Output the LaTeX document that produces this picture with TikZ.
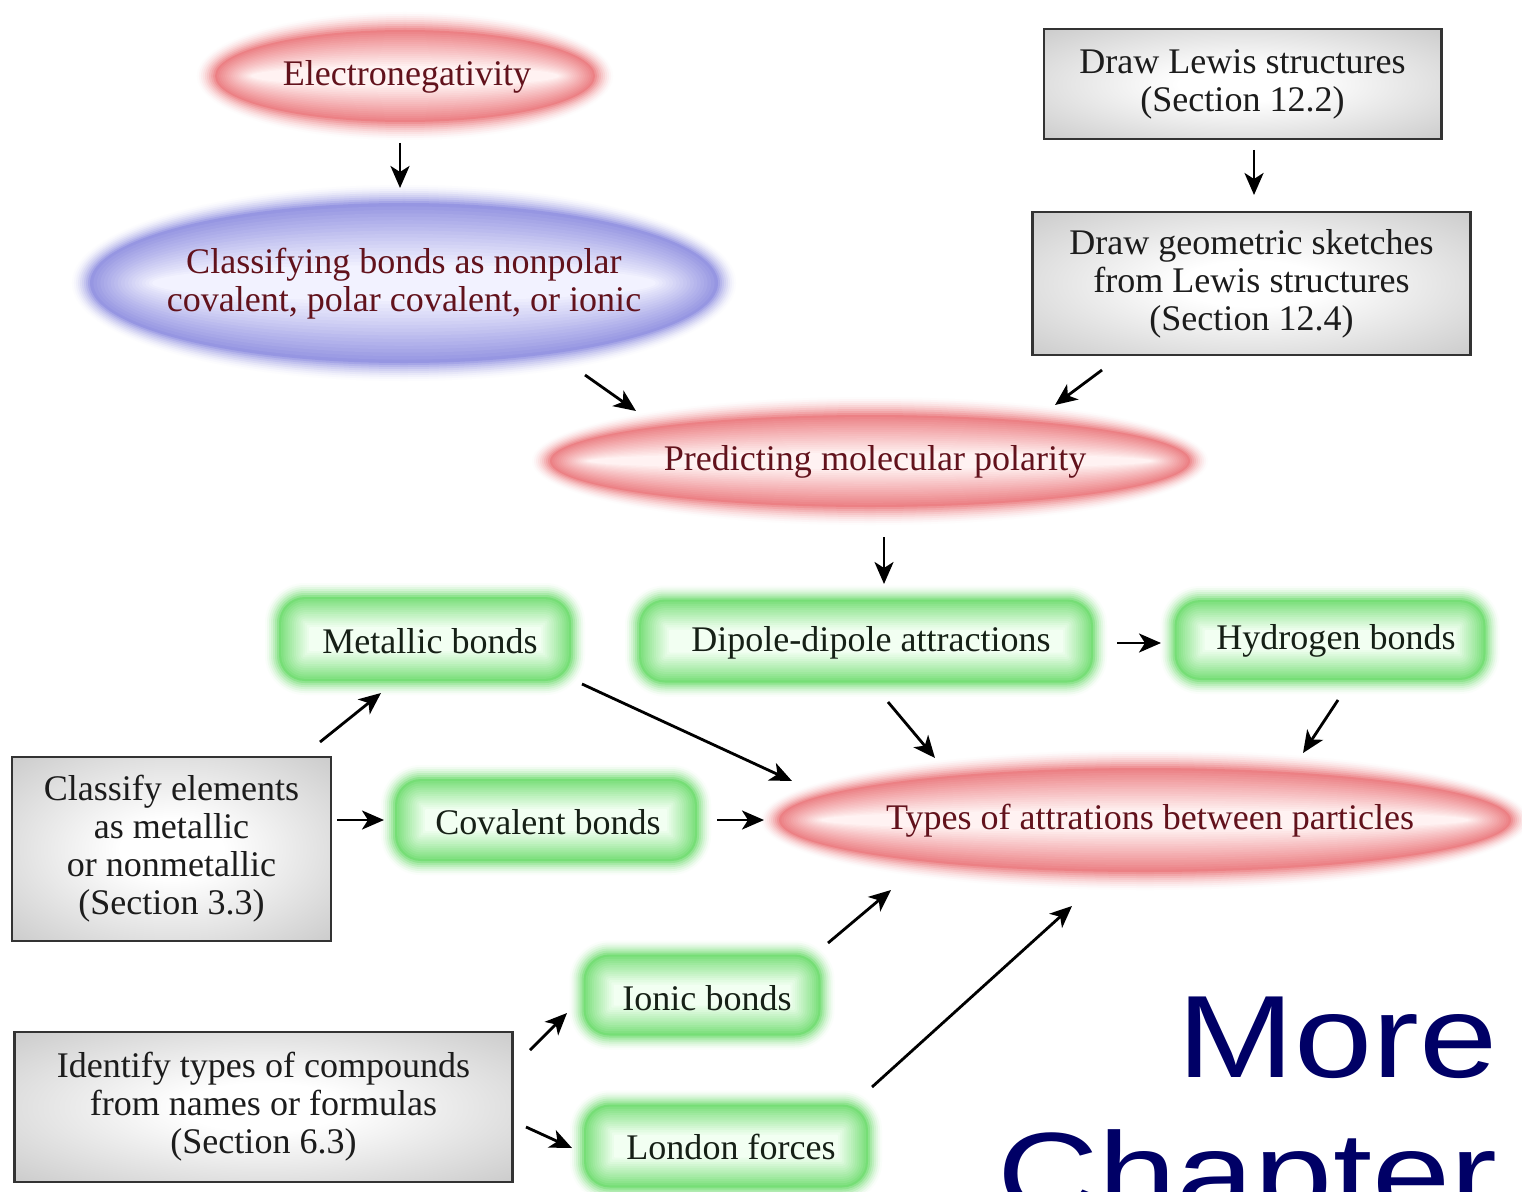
\documentclass[tikz,border=0pt]{standalone}
\usepackage{fontspec}
\setmainfont{Liberation Serif}
\newfontfamily\bigsans{Liberation Sans}
\usetikzlibrary{arrows.meta,calc}

\definecolor{pinkedge}{RGB}{236,128,132}
\definecolor{pinkin}{RGB}{255,242,242}
\definecolor{blueedge}{RGB}{150,150,226}
\definecolor{bluein}{RGB}{242,242,255}
\definecolor{greenedge}{RGB}{118,222,118}
\definecolor{greenin}{RGB}{242,255,242}
\definecolor{maroon}{RGB}{98,18,28}
\definecolor{inkgray}{RGB}{28,28,28}
\definecolor{inkgreen}{RGB}{22,32,22}
\definecolor{navyblue}{RGB}{0,0,102}

\pgfdeclareradialshading{boxshade}{\pgfpoint{0bp}{0bp}}{color(0bp)=(white); color(8bp)=(white); color(38bp)=(black!22); color(50bp)=(black!25)}

% glowing ellipse: cx cy a b edge inner depth
\newcommand\glowell[7]{%
  \foreach \k in {18,16,...,2}{%
    \pgfmathsetmacro\p{100*(1-\k/20)^1.6}%
    \pgfmathsetmacro\rx{(#3+\k)*0.01}\pgfmathsetmacro\ry{(#4+\k)*0.01}%
    \fill[#5!\p!white] (#1,#2) ellipse [x radius=\rx cm, y radius=\ry cm];
  }
  \foreach \k in {0,...,18}{%
    \pgfmathsetmacro\d{\k*#7/18}%
    \pgfmathsetmacro\q{100*(\k/18)^0.95}%
    \pgfmathsetmacro\rx{(#3-\d)*0.01}\pgfmathsetmacro\ry{(#4-\d)*0.01}%
    \fill[#6!\q!#5] (#1,#2) ellipse [x radius=\rx cm, y radius=\ry cm];
  }
}
% glowing rounded box: cx cy w h edge inner radius depth
\newcommand\glowrect[8]{%
  \foreach \k in {14,12,...,2}{%
    \pgfmathsetmacro\p{100*(1-\k/16)^1.6}%
    \pgfmathsetmacro\xa{#1-#3/2-\k}\pgfmathsetmacro\xb{#1+#3/2+\k}%
    \pgfmathsetmacro\ya{#2-#4/2-\k}\pgfmathsetmacro\yb{#2+#4/2+\k}%
    \pgfmathsetmacro\rr{(#7+\k)*0.01}%
    \fill[#5!\p!white, rounded corners=\rr cm] (\xa,\ya) rectangle (\xb,\yb);
  }
  \foreach \k in {0,...,14}{%
    \pgfmathsetmacro\d{\k*#8/14}%
    \pgfmathsetmacro\q{100*(\k/14)^0.9}%
    \pgfmathsetmacro\xa{#1-#3/2+\d}\pgfmathsetmacro\xb{#1+#3/2-\d}%
    \pgfmathsetmacro\ya{#2-#4/2+\d}\pgfmathsetmacro\yb{#2+#4/2-\d}%
    \pgfmathsetmacro\rr{max(#7-\d,1)*0.01}%
    \fill[#6!\q!#5, rounded corners=\rr cm] (\xa,\ya) rectangle (\xb,\yb);
  }
}

\tikzset{
  txt/.style={align=center, inner sep=0pt, font=\fontsize{10.25}{10.8}\selectfont},
  etext/.style={txt, text=maroon},
  gtext/.style={txt, text=inkgreen},
  graybox/.style={txt, text=inkgray, draw=black!80, line width=0.028cm, shading=boxshade},
  arr/.style={-{Stealth[length=0.22cm,width=0.19cm,inset=0.06cm]}, line width=0.8pt, black},
  bigtxt/.style={inner sep=0pt, text=navyblue, font=\bigsans\fontsize{33.3}{40}\selectfont, xscale=1.2}
}

\begin{document}
\begin{tikzpicture}[x=0.01cm,y=-0.01cm]
\useasboundingbox (0,0) rectangle (1522,1191);
\clip (0,0) rectangle (1522,1191);
\fill[white] (0,0) rectangle (1522,1191);

% ellipses
\glowell{405}{76}{190}{46}{pinkedge}{pinkin}{36}
\glowell{404}{283}{314}{80}{blueedge}{bluein}{62}
\glowell{870}{461}{320}{46}{pinkedge}{pinkin}{38}
\glowell{1145}{820}{366}{52}{pinkedge}{pinkin}{42}

% green boxes
\glowrect{425}{639}{292}{84}{greenedge}{greenin}{26}{30}
\glowrect{866}{641}{454}{83}{greenedge}{greenin}{26}{30}
\glowrect{1330}{640}{311}{80}{greenedge}{greenin}{26}{30}
\glowrect{546}{820}{302}{82}{greenedge}{greenin}{26}{30}
\glowrect{702}{995}{237}{81}{greenedge}{greenin}{26}{30}
\glowrect{726}{1146}{284}{83}{greenedge}{greenin}{26}{30}

% text nodes of glowing shapes
\node[etext] (elec) at (407,77) {Electronegativity};
\node[etext] (class) at (404,284) {Classifying bonds as nonpolar\\covalent, polar covalent, or ionic};
\node[etext] (pred) at (875,462) {Predicting molecular polarity};
\node[etext] (types) at (1150,821) {Types of attrations between particles};

\node[gtext] (met) at (430,641) {Metallic bonds};
\node[gtext] (dip) at (871,643) {Dipole-dipole attractions};
\node[gtext] (hyd) at (1336,641) {Hydrogen bonds};
\node[gtext] (cov) at (548,822) {Covalent bonds};
\node[gtext] (ion) at (707,998) {Ionic bonds};
\node[gtext] (lon) at (731,1147) {London forces};

% gray boxes
\node[graybox, minimum width=3.97cm, minimum height=1.10cm] (lewis) at (1242.5,84) {Draw Lewis structures\\(Section 12.2)};
\node[graybox, minimum width=4.37cm, minimum height=1.43cm] (geom) at (1251.5,283.5) {Draw geometric sketches\\from Lewis structures\\(Section 12.4)};
\node[graybox, minimum width=3.19cm, minimum height=1.84cm] (classify) at (171.5,849) {Classify elements\\as metallic\\or nonmetallic\\(Section 3.3)};
\node[graybox, minimum width=4.97cm, minimum height=1.50cm] (identify) at (263.5,1107) {Identify types of compounds\\from names or formulas\\(Section 6.3)};

% big text
\node[bigtxt, anchor=base east] (more) at (1498,1077) {More};
\node[bigtxt, anchor=base east] (chap) at (1498,1214) {Chapter};

% connectors
\draw[arr] ($(elec)+(-7,66)$) -- ($(class)+(-4,-96)$);
\draw[arr] ($(lewis)+(11.5,66)$) -- ($(geom)+(2.5,-88.5)$);
\draw[arr] ($(class)+(181,91)$) -- ($(pred)+(-239,-51)$);
\draw[arr] ($(geom)+(-149.5,86.5)$) -- ($(pred)+(180,-57)$);
\draw[arr] ($(pred)+(9,75)$) -- ($(dip)+(13,-59)$);
\draw[arr] ($(classify)+(148.5,-107)$) -- ($(met)+(-49,52)$);
\draw[arr] ($(classify)+(165.5,-29)$) -- ($(cov)+(-164,-2)$);
\draw[arr] ($(cov)+(169,-2)$) -- ($(types)+(-386,-1)$);
\draw[arr] ($(met)+(152,43)$) -- ($(types)+(-358,-40)$);
\draw[arr] ($(dip)+(246,0)$) -- ($(hyd)+(-175,2)$);
\draw[arr] ($(dip)+(17,59)$) -- ($(types)+(-215,-63)$);
\draw[arr] ($(hyd)+(2,59)$) -- ($(types)+(153,-68)$);
\draw[arr] ($(ion)+(121,-55)$) -- ($(types)+(-259,69)$);
\draw[arr] ($(lon)+(141,-60)$) -- ($(types)+(-78,85)$);
\draw[arr] ($(identify)+(266.5,-57)$) -- ($(ion)+(-140,15)$);
\draw[arr] ($(identify)+(262.5,20)$) -- ($(lon)+(-159,1)$);
\end{tikzpicture}
\end{document}
